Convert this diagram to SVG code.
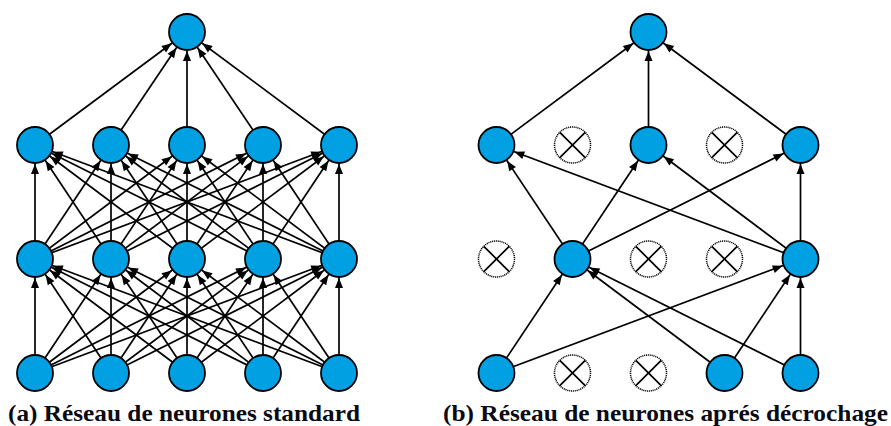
<svg xmlns="http://www.w3.org/2000/svg" width="891" height="426" viewBox="0 0 891 426">
<style>
.e{stroke:#000;stroke-width:1.7;fill:none;marker-end:url(#ah)}
.n{fill:#00A0E3;stroke:#000;stroke-width:1.8}
.d circle{fill:#fff;stroke:#000;stroke-width:1.5;stroke-dasharray:1.1 0.8}
.d line{stroke:#000;stroke-width:1.7}
</style>
<defs>
<marker id="ah" markerUnits="userSpaceOnUse" viewBox="-12 -6 34 12" refX="19" refY="0" markerWidth="34" markerHeight="12" orient="auto">
<path d="M0,0 L-10,-4 L-10,4 z" fill="#000"/>
</marker>
</defs>
<rect width="891" height="426" fill="#fff"/>
<g id="connectors">
<line class="e" x1="35" y1="145" x2="187" y2="32"/>
<line class="e" x1="111" y1="145" x2="187" y2="32"/>
<line class="e" x1="187" y1="145" x2="187" y2="32"/>
<line class="e" x1="263" y1="145" x2="187" y2="32"/>
<line class="e" x1="339" y1="145" x2="187" y2="32"/>
<line class="e" x1="35" y1="259" x2="35" y2="145"/>
<line class="e" x1="35" y1="259" x2="111" y2="145"/>
<line class="e" x1="35" y1="259" x2="187" y2="145"/>
<line class="e" x1="35" y1="259" x2="263" y2="145"/>
<line class="e" x1="35" y1="259" x2="339" y2="145"/>
<line class="e" x1="111" y1="259" x2="35" y2="145"/>
<line class="e" x1="111" y1="259" x2="111" y2="145"/>
<line class="e" x1="111" y1="259" x2="187" y2="145"/>
<line class="e" x1="111" y1="259" x2="263" y2="145"/>
<line class="e" x1="111" y1="259" x2="339" y2="145"/>
<line class="e" x1="187" y1="259" x2="35" y2="145"/>
<line class="e" x1="187" y1="259" x2="111" y2="145"/>
<line class="e" x1="187" y1="259" x2="187" y2="145"/>
<line class="e" x1="187" y1="259" x2="263" y2="145"/>
<line class="e" x1="187" y1="259" x2="339" y2="145"/>
<line class="e" x1="263" y1="259" x2="35" y2="145"/>
<line class="e" x1="263" y1="259" x2="111" y2="145"/>
<line class="e" x1="263" y1="259" x2="187" y2="145"/>
<line class="e" x1="263" y1="259" x2="263" y2="145"/>
<line class="e" x1="263" y1="259" x2="339" y2="145"/>
<line class="e" x1="339" y1="259" x2="35" y2="145"/>
<line class="e" x1="339" y1="259" x2="111" y2="145"/>
<line class="e" x1="339" y1="259" x2="187" y2="145"/>
<line class="e" x1="339" y1="259" x2="263" y2="145"/>
<line class="e" x1="339" y1="259" x2="339" y2="145"/>
<line class="e" x1="35" y1="373" x2="35" y2="259"/>
<line class="e" x1="35" y1="373" x2="111" y2="259"/>
<line class="e" x1="35" y1="373" x2="187" y2="259"/>
<line class="e" x1="35" y1="373" x2="263" y2="259"/>
<line class="e" x1="35" y1="373" x2="339" y2="259"/>
<line class="e" x1="111" y1="373" x2="35" y2="259"/>
<line class="e" x1="111" y1="373" x2="111" y2="259"/>
<line class="e" x1="111" y1="373" x2="187" y2="259"/>
<line class="e" x1="111" y1="373" x2="263" y2="259"/>
<line class="e" x1="111" y1="373" x2="339" y2="259"/>
<line class="e" x1="187" y1="373" x2="35" y2="259"/>
<line class="e" x1="187" y1="373" x2="111" y2="259"/>
<line class="e" x1="187" y1="373" x2="187" y2="259"/>
<line class="e" x1="187" y1="373" x2="263" y2="259"/>
<line class="e" x1="187" y1="373" x2="339" y2="259"/>
<line class="e" x1="263" y1="373" x2="35" y2="259"/>
<line class="e" x1="263" y1="373" x2="111" y2="259"/>
<line class="e" x1="263" y1="373" x2="187" y2="259"/>
<line class="e" x1="263" y1="373" x2="263" y2="259"/>
<line class="e" x1="263" y1="373" x2="339" y2="259"/>
<line class="e" x1="339" y1="373" x2="35" y2="259"/>
<line class="e" x1="339" y1="373" x2="111" y2="259"/>
<line class="e" x1="339" y1="373" x2="187" y2="259"/>
<line class="e" x1="339" y1="373" x2="263" y2="259"/>
<line class="e" x1="339" y1="373" x2="339" y2="259"/>
<line class="e" x1="496.5" y1="145" x2="648.5" y2="32"/>
<line class="e" x1="648.5" y1="145" x2="648.5" y2="32"/>
<line class="e" x1="800.5" y1="145" x2="648.5" y2="32"/>
<line class="e" x1="572.5" y1="259" x2="496.5" y2="145"/>
<line class="e" x1="572.5" y1="259" x2="648.5" y2="145"/>
<line class="e" x1="572.5" y1="259" x2="800.5" y2="145"/>
<line class="e" x1="800.5" y1="259" x2="496.5" y2="145"/>
<line class="e" x1="800.5" y1="259" x2="648.5" y2="145"/>
<line class="e" x1="800.5" y1="259" x2="800.5" y2="145"/>
<line class="e" x1="496.5" y1="373" x2="572.5" y2="259"/>
<line class="e" x1="496.5" y1="373" x2="800.5" y2="259"/>
<line class="e" x1="724.5" y1="373" x2="572.5" y2="259"/>
<line class="e" x1="724.5" y1="373" x2="800.5" y2="259"/>
<line class="e" x1="800.5" y1="373" x2="572.5" y2="259"/>
<line class="e" x1="800.5" y1="373" x2="800.5" y2="259"/>
</g>
<g id="a-nodes">
<g id="a-top"><circle class="n" cx="187" cy="32" r="18"/></g>
<g id="a-h2-1"><circle class="n" cx="35" cy="145" r="18"/></g>
<g id="a-h2-2"><circle class="n" cx="111" cy="145" r="18"/></g>
<g id="a-h2-3"><circle class="n" cx="187" cy="145" r="18"/></g>
<g id="a-h2-4"><circle class="n" cx="263" cy="145" r="18"/></g>
<g id="a-h2-5"><circle class="n" cx="339" cy="145" r="18"/></g>
<g id="a-h1-1"><circle class="n" cx="35" cy="259" r="18"/></g>
<g id="a-h1-2"><circle class="n" cx="111" cy="259" r="18"/></g>
<g id="a-h1-3"><circle class="n" cx="187" cy="259" r="18"/></g>
<g id="a-h1-4"><circle class="n" cx="263" cy="259" r="18"/></g>
<g id="a-h1-5"><circle class="n" cx="339" cy="259" r="18"/></g>
<g id="a-in-1"><circle class="n" cx="35" cy="373" r="18"/></g>
<g id="a-in-2"><circle class="n" cx="111" cy="373" r="18"/></g>
<g id="a-in-3"><circle class="n" cx="187" cy="373" r="18"/></g>
<g id="a-in-4"><circle class="n" cx="263" cy="373" r="18"/></g>
<g id="a-in-5"><circle class="n" cx="339" cy="373" r="18"/></g>
</g>
<g id="b-nodes">
<g id="b-top"><circle class="n" cx="648.5" cy="32" r="18"/></g>
<g id="b-h2-1"><circle class="n" cx="496.5" cy="145" r="18"/></g>
<g id="b-h2-2" class="d"><circle cx="572.5" cy="145" r="18"/><line x1="559.8" y1="132.3" x2="585.2" y2="157.7"/><line x1="585.2" y1="132.3" x2="559.8" y2="157.7"/></g>
<g id="b-h2-3"><circle class="n" cx="648.5" cy="145" r="18"/></g>
<g id="b-h2-4" class="d"><circle cx="724.5" cy="145" r="18"/><line x1="711.8" y1="132.3" x2="737.2" y2="157.7"/><line x1="737.2" y1="132.3" x2="711.8" y2="157.7"/></g>
<g id="b-h2-5"><circle class="n" cx="800.5" cy="145" r="18"/></g>
<g id="b-h1-1" class="d"><circle cx="496.5" cy="259" r="18"/><line x1="483.8" y1="246.3" x2="509.2" y2="271.7"/><line x1="509.2" y1="246.3" x2="483.8" y2="271.7"/></g>
<g id="b-h1-2"><circle class="n" cx="572.5" cy="259" r="18"/></g>
<g id="b-h1-3" class="d"><circle cx="648.5" cy="259" r="18"/><line x1="635.8" y1="246.3" x2="661.2" y2="271.7"/><line x1="661.2" y1="246.3" x2="635.8" y2="271.7"/></g>
<g id="b-h1-4" class="d"><circle cx="724.5" cy="259" r="18"/><line x1="711.8" y1="246.3" x2="737.2" y2="271.7"/><line x1="737.2" y1="246.3" x2="711.8" y2="271.7"/></g>
<g id="b-h1-5"><circle class="n" cx="800.5" cy="259" r="18"/></g>
<g id="b-in-1"><circle class="n" cx="496.5" cy="373" r="18"/></g>
<g id="b-in-2" class="d"><circle cx="572.5" cy="373" r="18"/><line x1="559.8" y1="360.3" x2="585.2" y2="385.7"/><line x1="585.2" y1="360.3" x2="559.8" y2="385.7"/></g>
<g id="b-in-3" class="d"><circle cx="648.5" cy="373" r="18"/><line x1="635.8" y1="360.3" x2="661.2" y2="385.7"/><line x1="661.2" y1="360.3" x2="635.8" y2="385.7"/></g>
<g id="b-in-4"><circle class="n" cx="724.5" cy="373" r="18"/></g>
<g id="b-in-5"><circle class="n" cx="800.5" cy="373" r="18"/></g>
</g>
<g id="captions" font-family="Liberation Serif, Times New Roman, DejaVu Serif, serif" font-weight="bold" font-size="24" fill="#0a0a14">
<text x="8" y="421" textLength="352" lengthAdjust="spacingAndGlyphs">(a) Réseau de neurones standard</text>
<text x="443" y="421" textLength="445" lengthAdjust="spacingAndGlyphs">(b) Réseau de neurones aprés décrochage</text>
</g>
</svg>
